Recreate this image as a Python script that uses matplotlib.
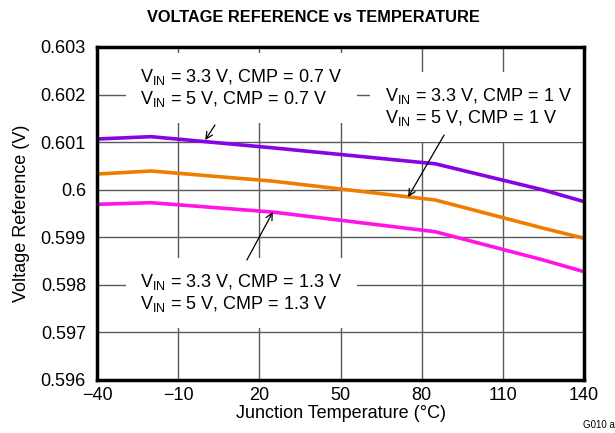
import matplotlib
matplotlib.use("Agg")
import matplotlib.pyplot as plt

plt.rcParams['font.family'] = ['Liberation Sans', 'DejaVu Sans']
plt.rcParams['mathtext.fontset'] = 'custom'
plt.rcParams['mathtext.rm'] = 'Liberation Sans'

temps = [-40, -20, 25, 85, 125, 140]
vref_cmp07 = [0.601066, 0.601115, 0.600880, 0.600545, 0.599994, 0.599750]
vref_cmp10 = [0.600330, 0.600393, 0.600180, 0.599784, 0.599190, 0.598980]
vref_cmp13 = [0.599693, 0.599727, 0.599530, 0.599117, 0.598522, 0.598277]

xticks = [-40, -10, 20, 50, 80, 110, 140]
yticks = [0.596, 0.597, 0.598, 0.599, 0.6, 0.601, 0.602, 0.603]
ytick_labels = ['0.596', '0.597', '0.598', '0.599', '0.6', '0.601', '0.602', '0.603']

fig = plt.figure(figsize=(6.15, 4.33), dpi=100)
ax = fig.add_axes([97/615, 1-380/433, 487/615, 333/433])

ax.plot(temps, vref_cmp07, color='#8A00E0', lw=2.6, zorder=3)
ax.plot(temps, vref_cmp07, color='#7A10F0', lw=1.0, zorder=3, alpha=0.5)
ax.plot(temps, vref_cmp10, color='#EE7D00', lw=2.6, zorder=3)
ax.plot(temps, vref_cmp13, color='#FF14E6', lw=2.6, zorder=3)

ax.set_xlim(-40, 140)
ax.set_ylim(0.596, 0.603)
ax.set_xticks(xticks)
ax.set_xticklabels([str(t).replace('-', '\u2212') for t in xticks])
ax.set_yticks(yticks)
ax.set_yticklabels(ytick_labels)
ax.tick_params(length=0, labelsize=13, colors='black')
ax.tick_params(axis='y', pad=8)
ax.tick_params(axis='x', pad=5)
ax.grid(True, color='#5a5a5a', lw=1.0, zorder=1)
for s in ax.spines.values():
    s.set_linewidth(2.5)
    s.set_zorder(5)

ax.set_xlabel('Junction Temperature (°C)', fontsize=13, labelpad=1)
ax.set_ylabel('Voltage Reference (V)', fontsize=13, labelpad=8)

fig.text(313/615, 1-17/433, 'VOLTAGE REFERENCE vs TEMPERATURE', ha='center', va='center',
         fontsize=11.8, fontweight='bold')
fig.text(583/615, 1-425/433, 'G010 a', fontsize=7, ha='left', va='center')

bbox = dict(boxstyle='square,pad=0.8', fc='white', ec='none')
tsz = 13
ls = 1.12
ax.text(-24.1, 0.602138, '$\\mathrm{V_{IN}}$ = 3.3 V, CMP = 0.7 V\n$\\mathrm{V_{IN}}$ = 5 V, CMP = 0.7 V',
        ha='left', va='center', multialignment='left', fontsize=tsz, bbox=bbox, zorder=4, linespacing=ls)
ax.text(66.4, 0.601739, '$\\mathrm{V_{IN}}$ = 3.3 V, CMP = 1 V\n$\\mathrm{V_{IN}}$ = 5 V, CMP = 1 V',
        ha='left', va='center', multialignment='left', fontsize=tsz, bbox=bbox, zorder=4, linespacing=ls)
ax.text(-24.1, 0.597829, '$\\mathrm{V_{IN}}$ = 3.3 V, CMP = 1.3 V\n$\\mathrm{V_{IN}}$ = 5 V, CMP = 1.3 V',
        ha='left', va='center', multialignment='left', fontsize=tsz, bbox=bbox, zorder=4, linespacing=ls)

ap = dict(arrowstyle='->', color='black', lw=0.9, mutation_scale=12, shrinkA=0, shrinkB=0)
ax.annotate('', xy=(0.0, 0.601045), xytext=(3.6, 0.60136), arrowprops=ap, zorder=6)
ax.annotate('', xy=(75.0, 0.599847), xytext=(88.3, 0.60115), arrowprops=ap, zorder=6)
ax.annotate('', xy=(25.0, 0.599532), xytext=(15.4, 0.598522), arrowprops=ap, zorder=6)

fig.savefig('out.png', dpi=100)
